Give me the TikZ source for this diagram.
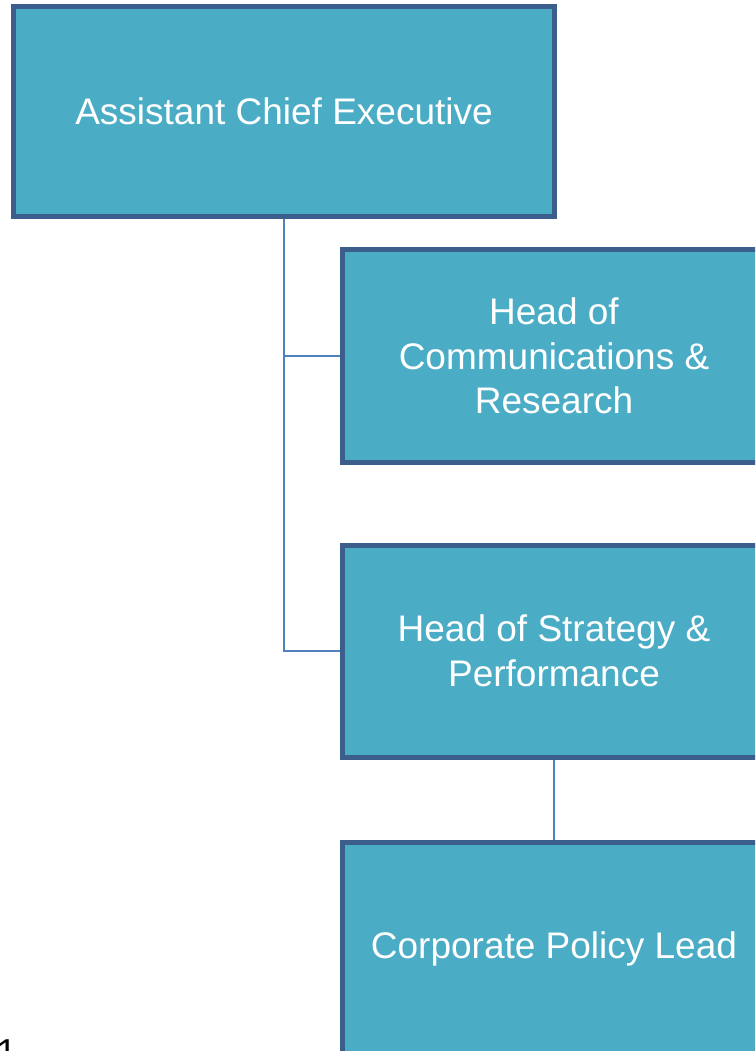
\documentclass[tikz,border=0pt]{standalone}
\usepackage{fontspec}
\setmainfont{Liberation Sans}
\definecolor{boxfill}{HTML}{4BACC6}
\definecolor{boxline}{HTML}{3B5E8C}
\definecolor{conn}{HTML}{4F81BD}
\tikzset{
  orgbox/.style={draw=boxline, line width=5pt, fill=boxfill, text=white,
    align=center, inner sep=0pt, font=\fontsize{37}{44.5}\selectfont},
  link/.style={draw=conn, line width=2pt}
}
\begin{document}
\begin{tikzpicture}[x=1pt,y=-1pt]
\useasboundingbox (0,0) rectangle (755,1051);
\clip (0,0) rectangle (755,1051);
\node[orgbox, minimum width=541pt, minimum height=209.5pt] (ace) at (284,111.25) {Assistant Chief Executive};
\node[orgbox, minimum width=423pt, minimum height=213pt] (comm) at (554,356) {Head of\\Communications \&\\Research};
\node[orgbox, minimum width=423pt, minimum height=212pt] (strat) at (554,651) {Head of Strategy \&\\Performance};
\node[orgbox, minimum width=423pt, minimum height=212pt] (corp) at (554,948.5) {Corporate Policy Lead};
\coordinate (j1) at (284,355.5);
\coordinate (j2) at (284,651);
\draw[link] (ace.south -| j1) -- (j2) -- (strat.west);
\draw[link] (j1) -- (comm.west |- j1);
\draw[link] (strat.south) -- (corp.north);
\node[anchor=base west, inner sep=0pt, font=\fontsize{36}{40}\selectfont] (pg) at (-3.5,1064) {1};
\end{tikzpicture}
\end{document}
